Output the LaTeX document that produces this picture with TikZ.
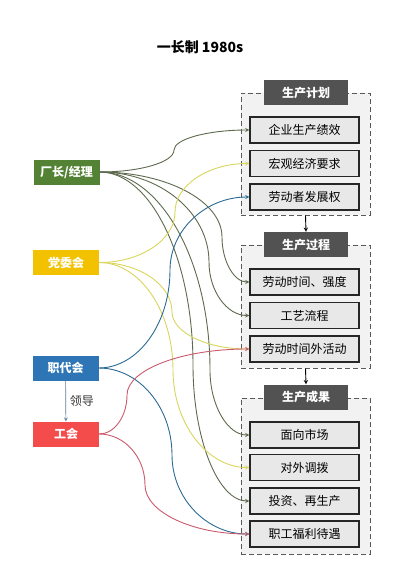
\documentclass[tikz,border=0pt]{standalone}
\usepackage{fontspec}
\setmainfont{Noto Sans CJK SC}
\usetikzlibrary{calc}

\definecolor{bossgreen}{HTML}{548235}
\definecolor{partygold}{HTML}{F2C200}
\definecolor{staffblue}{HTML}{2E75B6}
\definecolor{unionred}{HTML}{F44B4B}
\definecolor{glink}{HTML}{5D6A4C}
\definecolor{ylink}{HTML}{D9D55C}
\definecolor{blink}{HTML}{2B6A94}
\definecolor{rlink}{HTML}{C95A6C}

\tikzset{
  actor/.style={minimum width=66pt, minimum height=25pt, inner sep=0pt, text=white,
    font=\bfseries\fontsize{12}{14}\selectfont},
  panel/.style={draw=black!65, fill=black!5, dash pattern=on 5pt off 3pt, line width=1pt,
    minimum width=129pt, inner sep=0pt},
  head/.style={fill=black!68, text=white, minimum width=84pt, minimum height=25pt, inner sep=0pt,
    font=\bfseries\fontsize{12}{14}\selectfont},
  item/.style={draw=black!85, fill=black!9, line width=1.2pt, minimum width=109pt,
    minimum height=26pt, inner sep=0pt, font=\fontsize{12}{14}\selectfont},
  link/.style={line width=0.9pt, ->},
}

\begin{document}
\begin{tikzpicture}[x=1pt,y=-1pt,>=stealth]
  \useasboundingbox (0,0) rectangle (400,581);

  \node[font=\bfseries\fontsize{14}{16}\selectfont] (title) at (200,47) {一长制 1980s};

  \node[actor, fill=bossgreen] (boss) at (66.5,172) {厂长/经理};
  \node[actor, fill=partygold] (party) at (66,262.5) {党委会};
  \node[actor, fill=staffblue] (staff) at (65.5,368) {职代会};
  \node[actor, fill=unionred] (union) at (66,434) {工会};

  \draw[->, staffblue!60!black!70, line width=0.7pt] (staff) -- (union)
    node[midway, right=0.5pt, text=black!80, font=\fontsize{12}{14}\selectfont] {领导};

  \node[panel, minimum height=122pt] (plan) at (305.5,154) {};
  \node[head] (planhead) at (306,92.5) {生产计划};
  \foreach \n/\y/\t in {a1/130/企业生产绩效, a2/163.5/宏观经济要求, a3/197/劳动者发展权}
    \node[item] (\n) at (304.5,\y) {\t};

  \node[panel, minimum height=123pt] (proc) at (305.5,306.5) {};
  \node[head] (prochead) at (306,244.5) {生产过程};
  \foreach \n/\y/\t in {b1/282/劳动时间、强度, b2/315.5/工艺流程, b3/349/劳动时间外活动}
    \node[item] (\n) at (304.5,\y) {\t};

  \node[panel, minimum height=156pt] (gain) at (305.5,476) {};
  \node[head] (gainhead) at (306,397) {生产成果};
  \foreach \n/\y/\t in {c1/435/面向市场, c2/467.5/对外调拨, c3/501/投资、再生产, c4/534/职工福利待遇}
    \node[item] (\n) at (304.5,\y) {\t};

  \draw[->, line width=0.9pt] (plan.south) -- (prochead.north);
  \draw[->, line width=0.9pt] (proc.south) -- (gainhead.north);

  \foreach \s/\c/\t/\mx/\my in {boss/glink/a1/174/150, boss/glink/b1/222/237, boss/glink/b2/209/262,
      boss/glink/c1/210/370, boss/glink/c3/193/365,
      party/ylink/a2/175/212, party/ylink/b3/172/312, party/ylink/c2/173/370,
      staff/blink/a3/170/270, staff/blink/c4/172/455,
      union/rlink/b3/127/395, union/rlink/c4/145/485}
  {
    \coordinate (m) at (\mx,\my);
    \draw[link, \c] (\s.east)
      .. controls ($(\s.east)!.55!(\s.east-|m)$) and ($(m)!.55!(\s.east-|m)$) .. (m)
      .. controls ($(m)!.55!(m|-\t.west)$) and ($(\t.west)!.55!(m|-\t.west)$) .. (\t.west);
  }
\end{tikzpicture}
\end{document}
